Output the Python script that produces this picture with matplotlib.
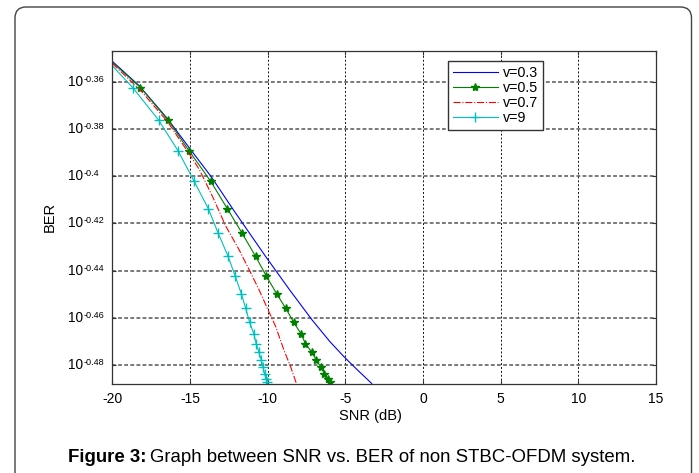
import numpy as np
import matplotlib
matplotlib.use('Agg')
import matplotlib.pyplot as plt
from matplotlib.patches import FancyBboxPatch
from matplotlib.transforms import IdentityTransform
from matplotlib.ticker import FixedLocator, NullLocator, NullFormatter

plt.rcParams['font.family'] = ['Liberation Sans', 'DejaVu Sans']

# exponents of BER (BER = 10**e)
ber_marks = [-0.3624, -0.3762, -0.3893, -0.4022, -0.4137, -0.4242, -0.4339,
             -0.4421, -0.4497, -0.4558, -0.4619, -0.4668, -0.4709, -0.4746,
             -0.4780, -0.4808, -0.4837, -0.4859, -0.4872]

# v=0.3
snr_03 = [-20, -18.26, -16.45, -15.05, -13.6, -12.2, -10.14, -8.6, -7.15, -6.0, -5.11, -4.2, -3.3]
ber_03 = [-0.3513, -0.3617, -0.3756, -0.3879, -0.4005, -0.4143, -0.4339,
          -0.4480, -0.4608, -0.4700, -0.4763, -0.4822, -0.4878]

# v=0.5 (first point is the line start, no marker)
snr_05 = [-20, -18.19, -16.41, -15.05, -13.66, -12.6, -11.64, -10.78, -10.1, -9.43,
          -8.85, -8.32, -7.85, -7.57, -7.15, -6.86, -6.57, -6.35, -6.14, -5.97]
ber_05 = [-0.3517] + ber_marks

# v=0.7
snr_07 = [-20, -18.2, -16.45, -15.05, -14.41, -13.56, -12.7, -11.85, -11.2,
          -10.56, -10.03, -9.49, -8.96, -8.53, -8.15]
ber_07 = [-0.3522, -0.3635, -0.3768, -0.3905, -0.397, -0.4084, -0.4211, -0.4310,
          -0.4395, -0.448, -0.4558, -0.4636, -0.4735, -0.4806, -0.4878]

# v=9
snr_9 = [-20, -18.69, -17.02, -15.76, -14.73, -13.82, -13.18, -12.55, -12.1, -11.7,
         -11.42, -11.16, -10.89, -10.74, -10.56, -10.41, -10.3, -10.2, -10.1, -10.03]
ber_9 = [-0.3532] + ber_marks

xticks = [-20, -15, -10, -5, 0, 5, 10, 15]
yticks = [-0.36, -0.38, -0.40, -0.42, -0.44, -0.46, -0.48]
ytick_labels = ['-0.36', '-0.38', '-0.4', '-0.42', '-0.44', '-0.46', '-0.48']

fig = plt.figure(figsize=(6.99, 4.73), dpi=100)
ax = fig.add_axes([0.1607, 0.1882, 0.7778, 0.7046])

pw = lambda e: 10 ** np.array(e)
ax.plot(snr_03, pw(ber_03), color='#0000ff', lw=0.8, label='v=0.3')
ax.plot(snr_05, pw(ber_05), color='#008000', lw=0.8, marker='*', ms=6,
        markevery=list(range(1, len(snr_05))), label='v=0.5')
ax.plot(snr_07, pw(ber_07), color='#ff0000', lw=0.8, ls='-.', label='v=0.7')
ax.plot(snr_9, pw(ber_9), color='#00bfbf', lw=0.8, marker='+', ms=7,
        markevery=list(range(1, len(snr_9))), label='v=9')

ax.set_yscale('log')
ax.set_xlim(-20, 15)
ax.set_ylim(10 ** -0.488, 10 ** -0.3468)
ax.set_xticks(xticks)
ax.set_xticklabels([str(t) for t in xticks])
ax.yaxis.set_major_locator(FixedLocator(pw(yticks)))
ax.yaxis.set_minor_locator(NullLocator())
ax.yaxis.set_major_formatter(NullFormatter())
ax.yaxis.set_minor_formatter(NullFormatter())

# y tick labels drawn as "10" with a small superscript, like the original
ytr = ax.get_yaxis_transform()
for e, s in zip(yticks, ytick_labels):
    ax.text(-0.0815, 10 ** e, '10', transform=ytr, ha='left', va='center', fontsize=9.8)
    ax.text(-0.0535, 10 ** e, s, transform=ytr, ha='left', va='baseline', fontsize=6.6)

ax.tick_params(direction='in', length=3, top=True, right=True, labelsize=10, color='#333333')
ax.tick_params(axis='x', pad=6)
for s in ax.spines.values():
    s.set_color('#333333')
    s.set_linewidth(0.9)

ax.xaxis.grid(True, color='#111111', lw=0.7, ls=(0, (2, 2)))
ax.yaxis.grid(True, color='#555555', lw=1.1, ls=(0, (2.5, 1.5)))

ax.set_xlabel('SNR (dB)', fontsize=10.5)
ax.xaxis.set_label_coords(0.474, -0.074)
ax.set_ylabel('BER', fontsize=10.5)
ax.yaxis.set_label_coords(-0.1026, 0.5)

leg = ax.legend(loc='upper left', bbox_to_anchor=(0.617, 0.969), borderaxespad=0,
                fontsize=10.3, handlelength=3.15, handletextpad=0.35, labelspacing=0.06,
                borderpad=0.35, fancybox=False, framealpha=1)
leg.get_frame().set_edgecolor('#333333')
leg.get_frame().set_linewidth(1.0)

# rounded frame around the figure
frame = FancyBboxPatch((15, -20), 676.5, 486, boxstyle='round,pad=0,rounding_size=11',
                       transform=IdentityTransform(), fill=False, edgecolor='#444444', lw=1.0)
fig.patches.append(frame)

# caption: bold "Figure 3:" then regular text
t1 = fig.text(68 / 699, 1 - 461.5 / 473, 'Figure 3:', fontsize=13.4, fontweight='bold')
fig.canvas.draw()
bb = t1.get_window_extent()
fig.text((bb.x1 + 4) / 699, 1 - 461.5 / 473, 'Graph between SNR vs. BER of non STBC-OFDM system.',
         fontsize=13.4)

fig.savefig('out.png', dpi=100)
